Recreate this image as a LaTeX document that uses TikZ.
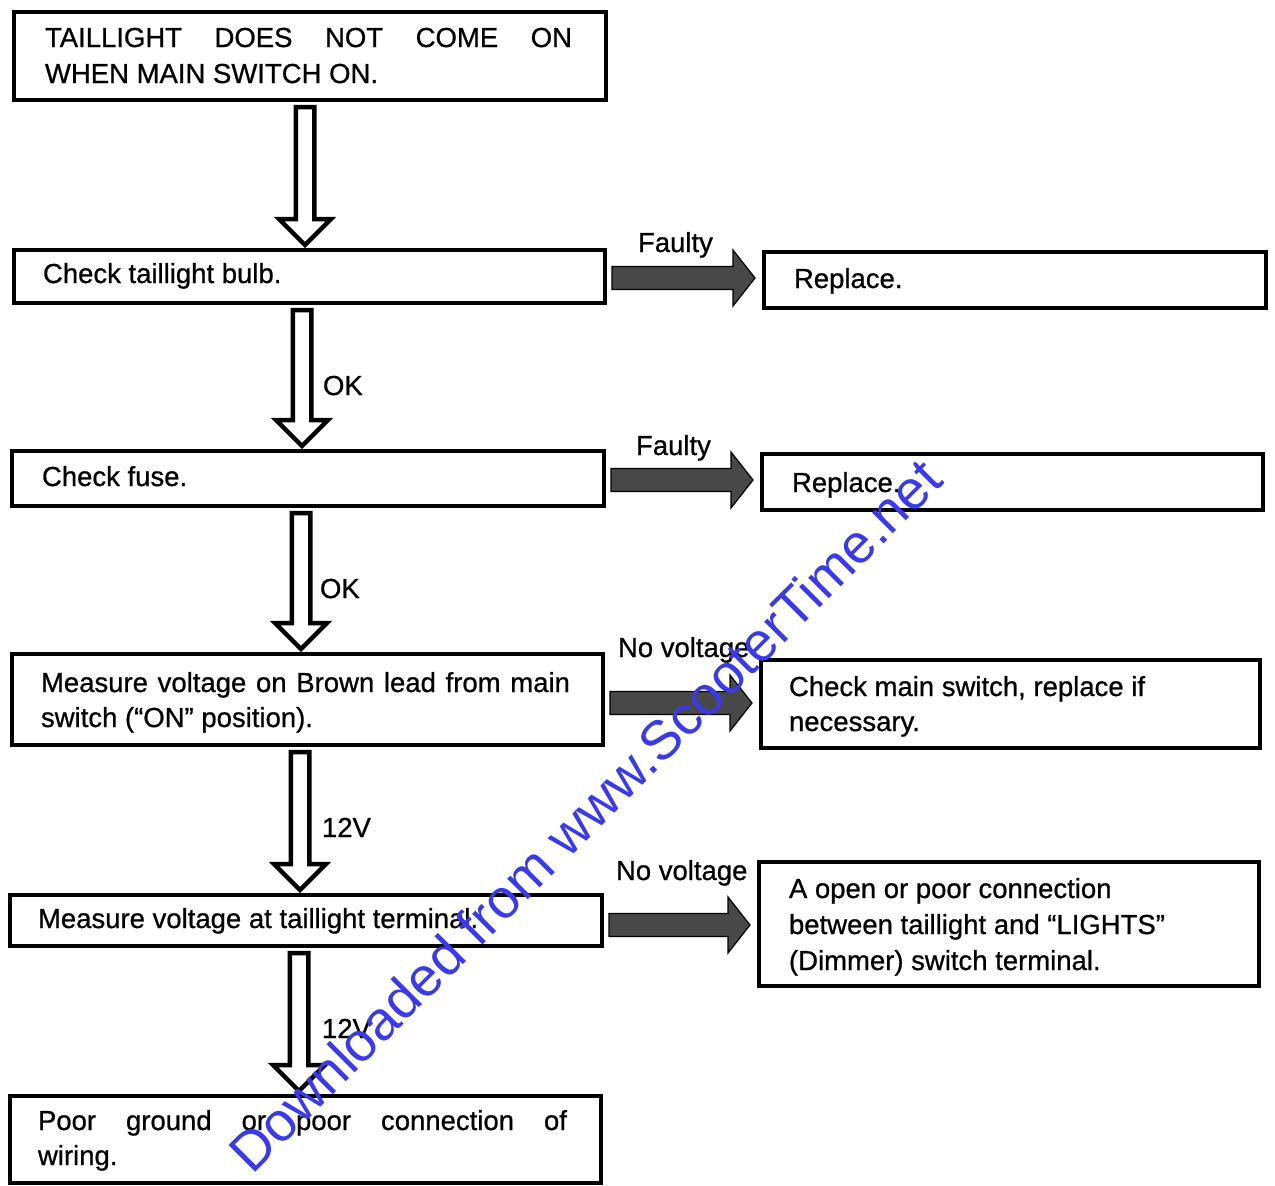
\documentclass[tikz,border=0pt]{standalone}
\usepackage{fontspec}
\setmainfont{Liberation Sans}
\newfontfamily\printfont[FakeBold=0.8]{Liberation Sans}
\usetikzlibrary{calc}
\definecolor{wmblue}{RGB}{58,58,232}
\definecolor{hatchgray}{RGB}{72,72,72}
\tikzset{
  box/.style={draw=black, line width=3.5pt, rectangle, inner sep=0pt, outer sep=0pt, anchor=north west},
  txt/.style={inner sep=0pt, outer sep=0pt, anchor=base west, font=\printfont\fontsize{27.5}{36}\selectfont},
  hollow/.style={draw=black, line width=4.5pt, fill=white, line join=miter},
  hatched/.style={draw=black, line width=1.2pt, fill=hatchgray, line join=miter},
  watermark/.style={rotate=45, text=wmblue, inner sep=0pt, font=\fontsize{55}{55}\selectfont},
}
\newcommand\hollowdown[3]{%
  \draw[hollow] let \p1=(#1.south -| #3,0), \p2=(#2.north -| #3,0) in
    (\x1-9.25pt,\y1-7pt) -- (\x1+9.25pt,\y1-7pt) -- (\x1+9.25pt,\y2+31pt) --
    (\x1+26pt,\y2+31pt) -- (\x1,\y2+5pt) -- (\x1-26pt,\y2+31pt) --
    (\x1-9.25pt,\y2+31pt) -- cycle;}
\newcommand\hatchright[3]{%
  \draw[hatched] let \p1=(#1.east |- 0,#3), \p2=(#2.west |- 0,#3) in
    (\x1+7pt,\y1+11.5pt) -- (\x2-31pt,\y1+11.5pt) -- (\x2-31pt,\y1+28pt) --
    (\x2-9pt,\y1) -- (\x2-31pt,\y1-28pt) -- (\x2-31pt,\y1-11.5pt) --
    (\x1+7pt,\y1-11.5pt) -- cycle;}
\begin{document}
\begin{tikzpicture}[x=1pt,y=-1pt]
\useasboundingbox (0,0) rectangle (1275,1186);
% boxes
\node[box, minimum width=592pt, minimum height=88pt] (b1) at (14,12) {};
\node[box, minimum width=591pt, minimum height=53pt] (b2) at (14,250) {};
\node[box, minimum width=502pt, minimum height=56pt] (r1) at (764,252) {};
\node[box, minimum width=592pt, minimum height=55pt] (b3) at (12,451) {};
\node[box, minimum width=501pt, minimum height=56pt] (r2) at (762,454) {};
\node[box, minimum width=591pt, minimum height=91pt] (b4) at (12,654) {};
\node[box, minimum width=499pt, minimum height=88pt] (r3) at (761,660) {};
\node[box, minimum width=592pt, minimum height=51pt] (b5) at (10,895) {};
\node[box, minimum width=500pt, minimum height=124pt] (r4) at (759,862) {};
\node[box, minimum width=591pt, minimum height=87pt] (b6) at (10,1096) {};
% texts
\node[txt] (t1a) at (45,47) {\makebox[527pt][s]{TAILLIGHT DOES NOT COME ON}};
\node[txt] (t1b) at (45,83) {WHEN MAIN SWITCH ON.};
\node[txt] (t2) at (43,283) {Check taillight bulb.};
\node[txt] (tr1) at (794,288) {Replace.};
\node[txt] (t3) at (42,486) {Check fuse.};
\node[txt] (tr2) at (792,492) {Replace.};
\node[txt] (t4a) at (41,692) {\makebox[529pt][s]{Measure voltage on Brown lead from main}};
\node[txt] (t4b) at (41,727) {switch (“ON” position).};
\node[txt] (tr3a) at (789,696) {Check main switch, replace if};
\node[txt] (tr3b) at (789,731) {necessary.};
\node[txt] (t5) at (38,928) {Measure voltage at taillight terminal.};
\node[txt] (tr4a) at (789,898) {A open or poor connection};
\node[txt] (tr4b) at (789,934) {between taillight and “LIGHTS”};
\node[txt] (tr4c) at (789,970) {(Dimmer) switch terminal.};
\node[txt] (t6a) at (38,1130) {\makebox[529pt][s]{Poor ground or poor connection of}};
\node[txt] (t6b) at (38,1165) {wiring.};
% connector labels
\node[txt] (lf1) at (638,252) {Faulty};
\node[txt] (lf2) at (636,455) {Faulty};
\node[txt] (ln1) at (618,657) {No voltage};
\node[txt] (ln2) at (616,880) {No voltage};
\node[txt] (lo1) at (323,395) {OK};
\node[txt] (lo2) at (320,598) {OK};
\node[txt] (lv1) at (322,837) {12V};
\node[txt] (lv2) at (322,1038) {12V};
% connectors
\hollowdown{b1}{b2}{305}
\hollowdown{b2}{b3}{302}
\hollowdown{b3}{b4}{301}
\hollowdown{b4}{b5}{300}
\hollowdown{b5}{b6}{299}
\hatchright{b2}{r1}{278}
\hatchright{b3}{r2}{480}
\hatchright{b4}{r3}{703}
\hatchright{b5}{r4}{925}
% watermark
\node[watermark] (wm) at (585,815) {Downloaded from www.ScooterTime.net};
\end{tikzpicture}
\end{document}
